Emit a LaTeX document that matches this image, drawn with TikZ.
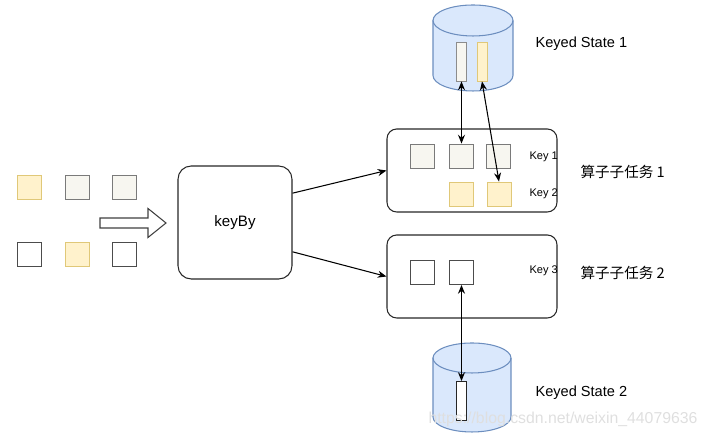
\documentclass[tikz,border=0pt]{standalone}
\usepackage{fontspec}
\setmainfont{Liberation Sans}
\newfontfamily\cjk{Noto Sans CJK SC}
\usepackage{tikz}
\usetikzlibrary{arrows.meta}
\definecolor{grayfill}{HTML}{F7F6F0}
\definecolor{yelfill}{HTML}{FFF2CC}
\definecolor{yeldraw}{HTML}{E0C878}
\definecolor{cylfill}{HTML}{DAE8FC}
\definecolor{cyldraw}{HTML}{6C8EBF}
\definecolor{edge}{HTML}{7A7A7A}
\tikzset{
	sq/.style={draw=edge,line width=0.5pt,minimum size=0.48cm,inner sep=0},
	sqgray/.style={sq,fill=grayfill},
	sqyel/.style={sq,draw=yeldraw,fill=yelfill},
	sqwhite/.style={sq,draw=black!70,fill=white},
	bar/.style={draw=edge,line width=0.5pt,minimum width=0.2cm,minimum height=0.78cm,inner sep=0},
	task/.style={draw=black!85,rounded corners=5.5pt,minimum width=3.4cm,minimum height=1.66cm},
	lbl/.style={anchor=west,inner sep=0,font=\fontsize{8.3}{10}\selectfont},
	keylbl/.style={anchor=west,inner sep=0,font=\fontsize{6.3}{8}\selectfont},
	link/.style={{Stealth[length=5pt,width=4pt]}-{Stealth[length=5pt,width=4pt]}}
}

\begin{document}
\begin{tikzpicture}[x=0.02cm,y=0.02cm,line width=0.6pt]
	\useasboundingbox (0,0) rectangle (708,438);
	% input elements
	\node[sqyel] (in1) at (29,251) {};
	\node[sqgray] (in2) at (77,251) {};
	\node[sqgray] (in3) at (124,251) {};
	\node[sqwhite] (in4) at (29,184) {};
	\node[sqyel] (in5) at (77,184) {};
	\node[sqwhite] (in6) at (124,184) {};
	\draw[black!75,fill=white] (100,220) -- (148,220) -- (148,229.5) -- (166,215) -- (148,200.5) -- (148,210) -- (100,210) -- cycle;
	\node[draw=black!85,rounded corners=7.5pt,minimum width=2.28cm,minimum height=2.26cm,font=\fontsize{8.6}{10}\selectfont] (keyby) at (235,215.5) {keyBy};
	% subtasks
	\node[task] (task1) at (472,267.5) {};
	\node[task] (task2) at (472,161.5) {};
	\draw[-{Stealth[length=5pt,width=4pt]}] (keyby.27) -- (task1.west);
	\draw[-{Stealth[length=5pt,width=4pt]}] (keyby.-27) -- (task2.west);
	\node[sqgray] (t1a) at (422.5,282) {};
	\node[sqgray] (t1b) at (461.5,282) {};
	\node[sqgray] (t1c) at (498.5,282) {};
	\node[sqyel] (t1d) at (461,244) {};
	\node[sqyel] (t1e) at (499,244) {};
	\node[sqwhite] (t2a) at (422,165.5) {};
	\node[sqwhite] (t2b) at (461.5,165.5) {};
	\node[keylbl] at (529,281) {Key 1};
	\node[keylbl] at (529,244) {Key 2};
	\node[keylbl] at (529,167) {Key 3};
	\node[lbl,font=\cjk\fontsize{8.3}{10}\selectfont] at (580,266) {算子子任务 1};
	\node[lbl,font=\cjk\fontsize{8.3}{10}\selectfont] at (580,165) {算子子任务 2};
	% keyed state 1
	\draw[cyldraw,fill=cylfill] (433,417.5) -- (433,362.5) arc[start angle=180,end angle=360,x radius=0.8cm,y radius=0.31cm] -- (513,417.5) arc[start angle=0,end angle=180,x radius=0.8cm,y radius=0.31cm] -- cycle;
	\draw[cyldraw] (433,417.5) arc[start angle=180,end angle=360,x radius=0.8cm,y radius=0.31cm];
	\node[bar,draw=black!45,fill=grayfill] (bar1) at (461.5,376.5) {};
	\node[bar,draw=yeldraw,fill=yelfill] (bar2) at (482,376.5) {};
	\node[lbl] at (535,394) {Keyed State 1};
	\draw[link] (bar1.south) -- (t1b.north);
	\draw[link] (bar2.south) -- (t1e.north);
	% keyed state 2
	\draw[cyldraw,fill=cylfill] (433,80) -- (433,21) arc[start angle=180,end angle=360,x radius=0.78cm,y radius=0.3cm] -- (511,80) arc[start angle=0,end angle=180,x radius=0.78cm,y radius=0.3cm] -- cycle;
	\draw[cyldraw] (433,80) arc[start angle=180,end angle=360,x radius=0.78cm,y radius=0.3cm];
	\node[bar,draw=black!85,fill=white] (bar3) at (461.5,37) {};
	\node[lbl] at (535,45) {Keyed State 2};
	\draw[link] (t2b.south) -- (bar3.north);
	\node[lbl,font=\fontsize{9}{11}\selectfont,text=gray!25] at (428,19) {https://blog.csdn.net/weixin\_44079636};
\end{tikzpicture}
\end{document}
